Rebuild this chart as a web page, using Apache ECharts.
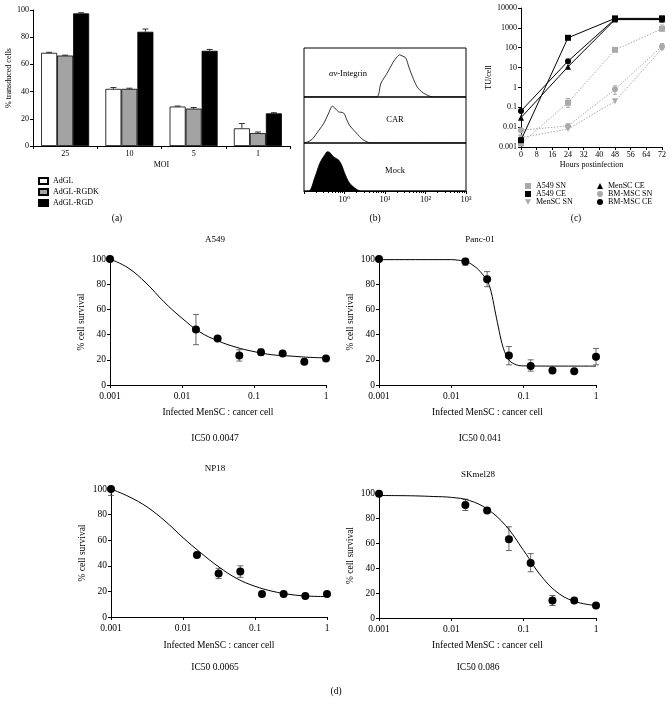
<!DOCTYPE html>
<html>
<head>
<meta charset="utf-8">
<script src="https://cdn.jsdelivr.net/npm/echarts@6/dist/echarts.min.js"></script>
<style>
	html, body { margin: 0; padding: 0; background: #fff; }
	#main { width: 672px; height: 709px; }
</style>
</head>
<body>
<div id="main"></div>
<script>
var FONT = '"Liberation Serif", "DejaVu Serif", serif';

// (a) transduction
var moiCats = ['25', '10', '5', '1'];
var adglVals = [68.5, 42, 29, 13];
var adglErr = [0.4, 1, 0.4, 3.5];
var rgdkVals = [66.5, 42, 27.5, 9.5];
var rgdkErr = [0.3, 0.5, 0.8, 0.8];
var rgdVals = [97.5, 84, 70, 24];
var rgdErr = [0.5, 2, 1, 0.5];

// (b) flow histograms: [log10 intensity, % of row height]
var integrinHist = [[-1, 0], [0.78, 0], [0.9, 28], [1.07, 51], [1.2, 71], [1.3, 82], [1.36, 86], [1.42, 84], [1.51, 80], [1.59, 61], [1.68, 41], [1.8, 20], [1.95, 8], [2.2, 0], [3, 0]];
var carHist = [[-1, 0], [-0.92, 2], [-0.8, 8], [-0.63, 28], [-0.51, 43], [-0.39, 65], [-0.3, 80], [-0.24, 76], [-0.15, 68], [-0.02, 65], [0.05, 52], [0.12, 39], [0.29, 22], [0.46, 7], [0.66, 0], [3, 0]];
var mockHist = [[-1, 0], [-0.88, 0], [-0.73, 29], [-0.61, 58], [-0.49, 75], [-0.42, 82], [-0.36, 80], [-0.27, 71], [-0.15, 65], [-0.07, 54], [0, 38], [0.12, 17], [0.29, 4], [0.41, 0], [3, 0]];

// (c) TU per cell
var hours = [0, 24, 48, 72];
var a549SN = [0.0015, 0.17, 78, 900];
var a549CE = [0.0022, 316, 3000, 3000];
var menscSN = [0.003, 0.008, 0.2, 90];
var menscCE = [0.03, 11, 2600, 2600];
var bmSN = [0.007, 0.0115, 0.8, 115];
var bmCE = [0.065, 21, 2800, 2700];
var tuErr = [[24, 0.1, 0.28], [48, 0.45, 1.2], [72, 80, 160], [72, 700, 1400], [72, 1900, 4000]];

// (d) survival
var ratios = [0.001, 1 / 64, 1 / 32, 1 / 16, 1 / 8, 1 / 4, 1 / 2, 1];
var a549Surv = [100, 44, 37, 23.5, 26, 25, 18.5, 21];
var pancSurv = [100, 98, 84, 23.5, 15, 11.5, 11, 22.5];
var np18Surv = [100, 48.5, 34, 35.5, 18, 18, 16.5, 18];
var skSurv = [99.5, 90.5, 86, 63, 44, 14, 14, 10];

var a549Err = [[1 / 64, 32, 56], [1 / 32, 35.5, 38.5], [1 / 16, 19, 28], [1 / 8, 23.5, 28.5]];
var pancErr = [[1 / 64, 95, 100.5], [1 / 32, 78, 90], [1 / 16, 16, 30.5], [1 / 8, 11, 20], [1, 16, 29]];
var np18Err = [[0.001, 95, 100], [1 / 64, 46.5, 50.5], [1 / 32, 30, 38], [1 / 16, 31, 40]];
var skErr = [[1 / 64, 86, 95], [1 / 16, 54, 73], [1 / 8, 37, 51.5], [1 / 4, 10, 18]];

// fitted curves, x as log10 ratio
var fitLog = [-3, -2.75, -2.5, -2.25, -2, -1.75, -1.5, -1.25, -1, -0.75, -0.5, -0.25, 0];
var a549Fit = [100, 93, 81, 66, 53, 42, 35, 30, 26.5, 24, 23, 22, 21.5];
var np18Fit = [100, 94, 86, 75, 62, 50, 39, 30, 24, 20, 17.5, 16.3, 16];
var skFit = [98, 97.9, 97.7, 97.2, 96.5, 94, 87, 74, 54, 33, 19, 12.5, 10];
var pancLog = [-3, -2, -1.9, -1.8, -1.7, -1.6, -1.5, -1.45, -1.4, -1.35, -1.3, -1.25, -1.2, -1.1, -1, -0.5, 0];
var pancFit = [99.5, 99.5, 99, 98, 95, 90, 82, 74, 60, 46, 33, 24.5, 19.5, 16, 15.2, 15, 15];

(function() {
	var myChart = echarts.init(document.getElementById('main'));

	function baseAxis(fs) {
		return {
			axisLine: { show: true, onZero: false, lineStyle: { color: '#000', width: 1 } },
			axisTick: { show: true, inside: false, length: 3, lineStyle: { color: '#000' } },
			axisLabel: { color: '#000', fontFamily: FONT, fontSize: fs, margin: 4 },
			splitLine: { show: false },
			nameTextStyle: { color: '#000', fontFamily: FONT, fontSize: fs }
		};
	}
	function ax(fs, extra) {
		return Object.assign(baseAxis(fs), extra);
	}
	function pairs(xs, ys) {
		return xs.map(function(x, i) { return [x, ys[i]]; });
	}
	function logPairs(xs, ys) {
		return xs.map(function(x, i) { return [Math.pow(10, x), ys[i]]; });
	}
	function numLabel(v) {
		return String(+(+v).toPrecision(4));
	}

	var barW = 16;
	function barErr(k, vals, errs) {
		return {
			type: 'custom', xAxisIndex: 0, yAxisIndex: 0, silent: true, z: 5,
			data: vals.map(function(v, i) { return [i, v, v + errs[i]]; }),
			encode: { x: 0, y: [1, 2] },
			renderItem: function(params, api) {
				var p1 = api.coord([api.value(0), api.value(1)]);
				var p2 = api.coord([api.value(0), api.value(2)]);
				var x = p1[0] + (k - 1) * barW;
				var st = { stroke: '#000', lineWidth: 0.8 };
				return { type: 'group', children: [
					{ type: 'line', shape: { x1: x, y1: p1[1], x2: x, y2: p2[1] }, style: st },
					{ type: 'line', shape: { x1: x - 3, y1: p2[1], x2: x + 3, y2: p2[1] }, style: st }
				] };
			}
		};
	}
	function errBars(idx, data, color, cap) {
		return {
			type: 'custom', xAxisIndex: idx, yAxisIndex: idx, silent: true, z: 3,
			data: data,
			encode: { x: 0, y: [1, 2] },
			renderItem: function(params, api) {
				var x = api.value(0);
				var lo = api.coord([x, api.value(1)]);
				var hi = api.coord([x, api.value(2)]);
				var st = { stroke: color, lineWidth: 0.8 };
				return { type: 'group', children: [
					{ type: 'line', shape: { x1: lo[0], y1: lo[1], x2: hi[0], y2: hi[1] }, style: st },
					{ type: 'line', shape: { x1: lo[0] - cap, y1: lo[1], x2: lo[0] + cap, y2: lo[1] }, style: st },
					{ type: 'line', shape: { x1: hi[0] - cap, y1: hi[1], x2: hi[0] + cap, y2: hi[1] }, style: st }
				] };
			}
		};
	}

	var grids = [
		{ left: 33, top: 10, width: 257, height: 136 },
		{ left: 304, top: 48, width: 162, height: 49, show: true, borderColor: '#000', borderWidth: 1 },
		{ left: 304, top: 97, width: 162, height: 46, show: true, borderColor: '#000', borderWidth: 1 },
		{ left: 304, top: 143, width: 162, height: 48, show: true, borderColor: '#000', borderWidth: 1 },
		{ left: 521, top: 8, width: 141, height: 139 },
		{ left: 110, top: 259, width: 216, height: 126 },
		{ left: 379, top: 259, width: 217, height: 126 },
		{ left: 111, top: 489, width: 216, height: 128 },
		{ left: 379, top: 493, width: 217, height: 125 }
	];

	var flowX = function(i, showLabels) {
		return ax(8.5, {
			type: 'log', logBase: 10, gridIndex: i, min: 0.1, max: 1000,
			show: showLabels,
			axisTick: { show: true, length: 3, lineStyle: { color: '#000' } },
			minorTick: { show: true, splitNumber: 9, length: 2, lineStyle: { color: '#000' } },
			axisLabel: {
				color: '#000', fontFamily: FONT, fontSize: 8.5, margin: 4,
				formatter: function(v) {
					var e = Math.round(Math.log(v) / Math.LN10);
					var sup = ['\u2070', '\u00b9', '\u00b2', '\u00b3'];
					return e < 0 ? '' : '10' + sup[e];
				}
			}
		});
	};
	var survX = function(i, gap) {
		return ax(9.5, {
			type: 'log', logBase: 10, gridIndex: i, min: 0.001, max: 1,
			name: 'Infected MenSC : cancer cell', nameLocation: 'middle', nameGap: gap,
			axisLabel: { color: '#000', fontFamily: FONT, fontSize: 9.5, margin: 6, formatter: numLabel }
		});
	};
	var survY = function(i) {
		return ax(9.5, {
			type: 'value', gridIndex: i, min: 0, max: 100, interval: 20,
			name: '% cell survival', nameLocation: 'middle', nameGap: 24
		});
	};

	var xAxes = [
		ax(8, { type: 'category', gridIndex: 0, data: moiCats, name: 'MOI', nameLocation: 'middle', nameGap: 15 }),
		flowX(1, false), flowX(2, false), flowX(3, true),
		ax(8, { type: 'value', gridIndex: 4, min: 0, max: 72, interval: 8, name: 'Hours postinfection', nameLocation: 'middle', nameGap: 14 }),
		survX(5, 22), survX(6, 22), survX(7, 23), survX(8, 22)
	];
	var yAxes = [
		ax(8, { type: 'value', gridIndex: 0, min: 0, max: 100, interval: 20, name: '% transduced cells', nameLocation: 'middle', nameGap: 16 }),
		{ type: 'value', gridIndex: 1, min: 0, max: 100, show: false },
		{ type: 'value', gridIndex: 2, min: 0, max: 100, show: false },
		{ type: 'value', gridIndex: 3, min: 0, max: 100, show: false },
		ax(8, { type: 'log', logBase: 10, gridIndex: 4, min: 0.001, max: 10000, name: 'TU/cell', nameLocation: 'middle', nameGap: 28,
			axisLabel: { color: '#000', fontFamily: FONT, fontSize: 8, margin: 4, formatter: numLabel } }),
		survY(5), survY(6), survY(7), survY(8)
	];

	var barStyle = function(c) {
		return { color: c, borderColor: '#000', borderWidth: 0.8 };
	};

	var snLine = { color: '#aaa', width: 1, type: [1.5, 1.5] };
	var ceLine = { color: '#000', width: 1 };
	var tuSeries = function(name, vals, sym, color, line, rot) {
		return {
			name: name, type: 'line', xAxisIndex: 4, yAxisIndex: 4,
			data: pairs(hours, vals), symbol: sym, symbolSize: 6, symbolRotate: rot || 0,
			itemStyle: { color: color, opacity: 1 }, lineStyle: line, z: color === '#000' ? 4 : 3
		};
	};

	var survSeries = function(i, vals, fitX, fitY, errs) {
		return [{
			type: 'line', xAxisIndex: i, yAxisIndex: i, data: logPairs(fitX, fitY),
			showSymbol: false, smooth: 0.4, lineStyle: { color: '#000', width: 1 }, silent: true
		}, {
			type: 'scatter', xAxisIndex: i, yAxisIndex: i, data: pairs(ratios, vals),
			symbol: 'circle', symbolSize: 8, itemStyle: { color: '#000', opacity: 1 }, z: 4
		}, errBars(i, errs, '#444', 3)];
	};

	var flowSeries = function(i, hist, filled) {
		var s = {
			type: 'line', xAxisIndex: i, yAxisIndex: i, data: logPairs(hist.map(function(p) { return p[0]; }), hist.map(function(p) { return p[1]; })),
			showSymbol: false, smooth: 0.3, lineStyle: { color: '#000', width: 0.8 }, silent: true
		};
		if (filled) s.areaStyle = { color: '#000', opacity: 1 };
		return s;
	};

	var series = [
		{ name: 'AdGL', type: 'bar', xAxisIndex: 0, yAxisIndex: 0, data: adglVals, barWidth: barW, barGap: '0%', itemStyle: barStyle('#fff') },
		{ name: 'AdGL-RGDK', type: 'bar', xAxisIndex: 0, yAxisIndex: 0, data: rgdkVals, barWidth: barW, barGap: '0%', itemStyle: barStyle('#a3a3a3') },
		{ name: 'AdGL-RGD', type: 'bar', xAxisIndex: 0, yAxisIndex: 0, data: rgdVals, barWidth: barW, barGap: '0%', itemStyle: barStyle('#000') },
		barErr(0, adglVals, adglErr), barErr(1, rgdkVals, rgdkErr), barErr(2, rgdVals, rgdErr),
		flowSeries(1, integrinHist, false), flowSeries(2, carHist, false), flowSeries(3, mockHist, true),
		tuSeries('A549 SN', a549SN, 'rect', '#aaa', snLine),
		tuSeries('A549 CE', a549CE, 'rect', '#000', ceLine),
		tuSeries('MenSC SN', menscSN, 'triangle', '#aaa', snLine, 180),
		tuSeries('MenSC CE', menscCE, 'triangle', '#000', ceLine),
		tuSeries('BM-MSC SN', bmSN, 'circle', '#aaa', snLine),
		tuSeries('BM-MSC CE', bmCE, 'circle', '#000', ceLine),
		errBars(4, tuErr, '#999', 2)
	];
	series = series.concat(
		survSeries(5, a549Surv, fitLog, a549Fit, a549Err),
		survSeries(6, pancSurv, pancLog, pancFit, pancErr),
		survSeries(7, np18Surv, fitLog, np18Fit, np18Err),
		survSeries(8, skSurv, fitLog, skFit, skErr)
	);

	var txt = function(s, x, y, size, rich) {
		return {
			type: 'text', x: x, y: y, silent: true,
			style: { text: s, fill: '#000', font: size + 'px ' + FONT, align: 'center', verticalAlign: 'middle', rich: rich }
		};
	};
	var legText = { color: '#000', fontFamily: FONT, fontSize: 8 };

	var option = {
		backgroundColor: '#fff',
		animation: false,
		grid: grids,
		xAxis: xAxes,
		yAxis: yAxes,
		legend: [{
			left: 33, top: 172, orient: 'vertical', itemWidth: 9, itemHeight: 6, itemGap: 3,
			data: [{ name: 'AdGL', icon: 'rect' }, { name: 'AdGL-RGDK', icon: 'rect' }, { name: 'AdGL-RGD', icon: 'rect' }],
			textStyle: legText
		}, {
			left: 520, top: 177, orient: 'vertical', itemWidth: 6, itemHeight: 6, itemGap: 0,
			data: [{ name: 'A549 SN', icon: 'rect' }, { name: 'A549 CE', icon: 'rect' }, { name: 'MenSC SN', icon: 'path://M0,0L10,0L5,9Z' }],
			textStyle: legText
		}, {
			left: 592, top: 177, orient: 'vertical', itemWidth: 6, itemHeight: 6, itemGap: 0,
			data: [{ name: 'MenSC CE', icon: 'triangle' }, { name: 'BM-MSC SN', icon: 'circle' }, { name: 'BM-MSC CE', icon: 'circle' }],
			textStyle: legText
		}],
		graphic: [
			txt('(a)', 117, 218, 9.5), txt('(b)', 375, 218, 9.5), txt('(c)', 576, 218, 9.5), txt('(d)', 336, 691, 9.5),
			txt('{i|\u03b1v}-Integrin', 348, 74, 8.5, { i: { fontStyle: 'italic', fontFamily: FONT, fontSize: 8.5 } }),
			txt('CAR', 395, 120, 8.5), txt('Mock', 395, 171, 8.5),
			txt('A549', 215, 240, 9), txt('Panc-01', 480, 240, 9), txt('NP18', 215, 469, 9), txt('SKmel28', 478, 475, 9),
			txt('IC50 0.0047', 215, 438, 9.5), txt('IC50 0.041', 480, 438, 9.5),
			txt('IC50 0.0065', 215, 667, 9.5), txt('IC50 0.086', 478, 667, 9.5)
		],
		series: series
	};
	myChart.setOption(option);
	window.addEventListener("resize", function() {
		myChart.resize();
	});
})();
</script>
</body>
</html>
